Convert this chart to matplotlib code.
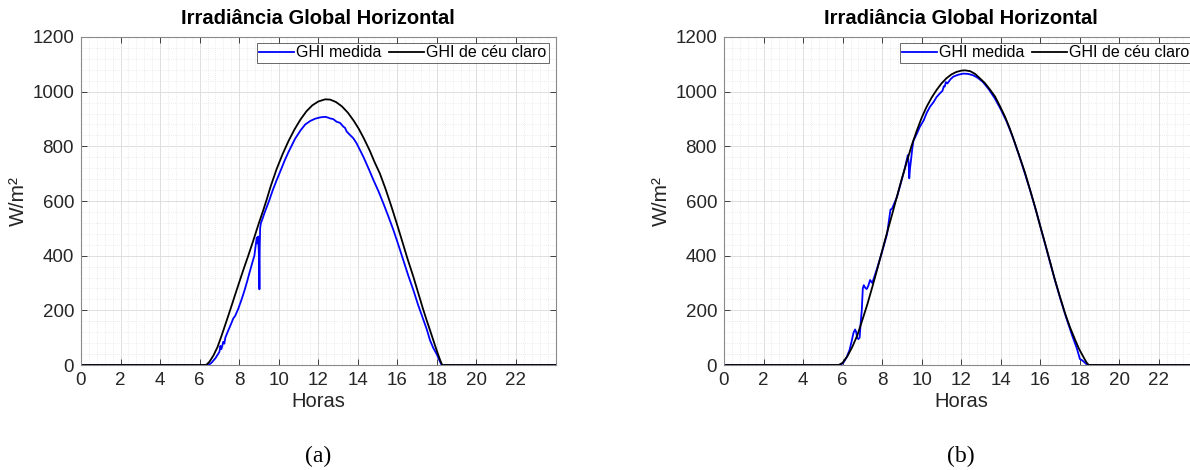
import numpy as np
import matplotlib; matplotlib.use("Agg")
import matplotlib.pyplot as plt
from matplotlib.ticker import MultipleLocator, AutoMinorLocator

plt.rcParams["font.family"] = ["Liberation Sans", "DejaVu Sans"]

# (a) dia com nuvens leves
a_med_h = [0, 6.45, 6.60, 6.80, 7.00, 7.05, 7.10, 7.20, 7.25, 7.30, 7.40, 7.50, 7.60, 7.70, 7.80,
           7.95, 8.10, 8.25, 8.40, 8.55, 8.70, 8.77, 8.84, 8.89, 8.93, 8.96, 8.99, 9.01, 9.025,
           9.04, 9.06, 9.10, 9.14, 9.30, 9.50, 9.70, 9.90, 10.10, 10.30, 10.50, 10.83, 11.10,
           11.34, 11.60, 11.84, 12.10, 12.35, 12.50, 12.60, 12.75, 12.93, 13.10, 13.27, 13.35,
           13.44, 13.60, 13.78, 13.94, 14.10, 14.28, 14.55, 14.79, 15.05, 15.29, 15.55, 15.80,
           16.05, 16.30, 16.55, 16.81, 17.05, 17.32, 17.50, 17.65, 17.82, 17.99, 18.12, 18.24, 24]
a_med_v = [0, 0, 8, 25, 48, 70, 58, 85, 78, 100, 118, 135, 152, 170, 180,
           205, 235, 268, 305, 345, 383, 400, 440, 466, 445, 470, 420, 380, 277,
           430, 500, 520, 527, 560, 598, 640, 677, 712, 748, 780, 828, 858,
           880, 893, 901, 906, 908, 905, 902, 900, 890, 886, 872, 868,
           854, 842, 829, 811, 788, 762, 718, 677, 635, 592, 543, 494,
           440, 384, 328, 274, 220, 165, 128, 91, 62, 40, 18, 0, 0]
a_clr_h = [0, 6.33, 6.50, 6.70, 6.90, 7.10, 7.30, 7.54, 7.80, 8.00, 8.23, 8.46, 8.70, 9.00, 9.20,
           9.39, 9.60, 9.90, 10.20, 10.50, 10.80, 11.10, 11.40, 11.70, 12.00, 12.35, 12.60,
           12.90, 13.20, 13.50, 13.80, 14.05, 14.30, 14.60, 14.85, 15.12, 15.40, 15.70, 15.97,
           16.25, 16.50, 16.81, 17.05, 17.30, 17.50, 17.65, 17.80, 17.95, 18.08, 18.18, 18.27, 24]
a_clr_v = [0, 0, 12, 35, 65, 105, 148, 200, 258, 302, 352, 400, 452, 520, 562,
           605, 655, 718, 772, 820, 862, 898, 928, 950, 964, 972, 971,
           962, 946, 923, 893, 864, 830, 785, 742, 700, 645, 580, 518,
           452, 392, 323, 265, 205, 160, 128, 95, 62, 35, 15, 0, 0]

# (b) dia de ceu claro
b_med_h = [0, 5.90, 6.05, 6.20, 6.35, 6.45, 6.55, 6.63, 6.68, 6.74, 6.80, 6.86, 6.92, 6.97, 7.02,
           7.07, 7.15, 7.22, 7.30, 7.39, 7.50, 7.75, 8.00, 8.25, 8.38, 8.42, 8.50, 8.75, 9.00,
           9.15, 9.24, 9.30, 9.34, 9.37, 9.41, 9.44, 9.52, 9.58, 9.70, 9.91, 10.10, 10.25, 10.42,
           10.60, 10.75, 10.92, 11.05, 11.12, 11.17, 11.22, 11.30, 11.45, 11.60, 11.85, 12.10,
           12.35, 12.60, 12.85, 13.10, 13.40, 13.70, 14.00, 14.30, 14.60, 14.90, 15.20, 15.50,
           15.80, 16.10, 16.40, 16.70, 17.00, 17.30, 17.60, 17.85, 17.95, 18.00, 18.10, 18.20,
           18.30, 18.38, 24]
b_med_v = [0, 0, 10, 28, 55, 85, 118, 130, 122, 98, 95, 100, 160, 201, 280,
           292, 282, 278, 290, 311, 300, 355, 415, 480, 548, 568, 572, 615, 680,
           720, 750, 768, 740, 683, 720, 738, 790, 820, 838, 872, 895, 922, 945,
           962, 980, 994, 1003, 1020, 1019, 1035, 1030, 1045, 1055, 1062, 1066,
           1065, 1060, 1050, 1035, 1008, 975, 935, 890, 835, 772, 705, 635,
           560, 480, 400, 320, 245, 175, 110, 60, 35, 22, 18, 12,
           5, 0, 0]
b_clr_h = [0, 5.80, 6.00, 6.25, 6.50, 6.75, 7.00, 7.25, 7.50, 7.75, 8.00, 8.25, 8.50, 8.75, 9.00,
           9.25, 9.50, 9.75, 10.00, 10.25, 10.50, 10.75, 11.00, 11.25, 11.50, 11.75, 12.00,
           12.20, 12.45, 12.70, 13.00, 13.20, 13.45, 13.71, 13.95, 14.21, 14.45, 14.72, 14.97,
           15.23, 15.48, 15.73, 15.98, 16.24, 16.49, 16.74, 17.00, 17.25, 17.50, 17.76, 17.95,
           18.10, 18.25, 18.35, 18.45, 24]
b_clr_v = [0, 0, 8, 33, 68, 110, 165, 222, 285, 350, 418, 485, 550, 617, 683,
           745, 805, 857, 905, 945, 978, 1006, 1030, 1049, 1063, 1072, 1077,
           1078, 1075, 1065, 1045, 1031, 1008, 982, 948, 909, 866, 811, 758,
           702, 641, 579, 512, 445, 378, 311, 248, 189, 138, 92, 60,
           40, 20, 8, 0, 0]

panels = [(a_med_h, a_med_v, a_clr_h, a_clr_v, "(a)"),
          (b_med_h, b_med_v, b_clr_h, b_clr_v, "(b)")]

W, H = 1190, 470
fig = plt.figure(figsize=(W / 100, H / 100), dpi=100)
axc = "#262626"
lefts = [81, 724]
for (mh, mv, ch, cv, cap), x0 in zip(panels, lefts):
    ax = fig.add_axes([x0 / W, (H - 365) / H, 474.5 / W, 328 / H])
    ax.plot(mh, mv, color="#0000ff", lw=1.3, label="GHI medida")
    ax.plot(ch, cv, color="black", lw=1.3, label="GHI de céu claro")
    ax.set_xlim(0, 24)
    ax.set_ylim(0, 1200)
    ax.set_xticks(np.arange(0, 23, 2))
    ax.yaxis.set_major_locator(MultipleLocator(200))
    ax.xaxis.set_minor_locator(AutoMinorLocator(5))
    ax.yaxis.set_minor_locator(AutoMinorLocator(5))
    ax.grid(which="major", color="#dedede", lw=0.7)
    ax.grid(which="minor", color="#e6e6e6", lw=0.6, ls=(0, (1, 1.5)))
    ax.set_axisbelow(True)
    ax.tick_params(which="major", direction="in", length=4, width=0.6, color=axc,
                   top=True, right=True, labelsize=13.5, labelcolor=axc, pad=5)
    ax.tick_params(which="minor", length=0)
    for s in ax.spines.values():
        s.set_color("#8a8a8a")
        s.set_linewidth(0.8)
    ax.set_title("Irradiância Global Horizontal", fontsize=14.5, fontweight="bold", pad=9)
    ax.set_xlabel("Horas", fontsize=14.5, color=axc, labelpad=2)
    ax.set_ylabel("W/m²", fontsize=15, color=axc, labelpad=3)
    leg = ax.legend(loc="upper right", ncol=2, fontsize=11.5, frameon=True, fancybox=False,
                    bbox_to_anchor=(1 - 7 / 474.5, 1 - 6 / 328), borderaxespad=0,
                    handlelength=2.2, handletextpad=0.1, columnspacing=0.5,
                    borderpad=0.15)
    leg.get_frame().set_edgecolor(axc)
    leg.get_frame().set_linewidth(0.6)
    fig.text((x0 + 237) / W, 1 - 456 / H, cap, fontsize=17, ha="center", va="center",
             family=["Liberation Serif"])

fig.savefig("out.png", dpi=100)
